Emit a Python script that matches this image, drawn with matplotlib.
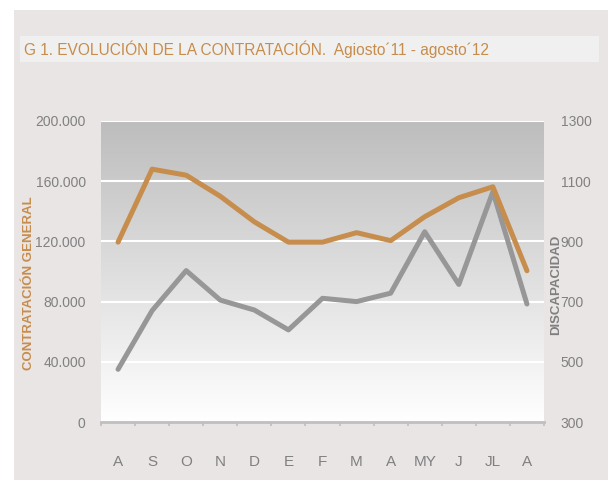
import numpy as np
import matplotlib
matplotlib.use("Agg")
import matplotlib.pyplot as plt
from matplotlib.patches import Rectangle

# ------- data -------
meses = ["A", "S", "O", "N", "D", "E", "F", "M", "A", "MY", "J", "JL", "A"]
contratacion_general = [119500, 168000, 164000, 150000, 133000, 119500, 119500,
                        125800, 120500, 136400, 149000, 156300, 100500]
discapacidad = [475, 670, 803, 705, 672, 606, 711, 700, 728, 932, 757, 1065, 692]
ticks_izq = [0, 40000, 80000, 120000, 160000, 200000]
ticks_der = [300, 500, 700, 900, 1100, 1300]

ORANGE = "#C68D4D"
GREY_LINE = "#979797"
TXT = "#808080"
BG = "#EAE5E5"
FONT = "Liberation Sans"

W, H = 608, 482
fig = plt.figure(figsize=(W / 100, H / 100), dpi=100)
fig.patch.set_facecolor("white")

# background panel + title band (behind the axes)
fig.patches.append(Rectangle((14 / W, 2 / H), 1, (H - 12) / H, transform=fig.transFigure,
                             facecolor=BG, edgecolor="none", zorder=-2))
fig.patches.append(Rectangle((20 / W, 1 - 62 / H), 579 / W, 26 / H, transform=fig.transFigure,
                             facecolor="#F1F0F0", edgecolor="none", zorder=-1))
fig.text(24 / W, 1 - 49 / H, "G 1. EVOLUCIÓN DE LA CONTRATACIÓN.  Agiosto´11 - agosto´12",
         fontsize=11.2, color=ORANGE, family=FONT, va="center", ha="left")

x0, x1, y0, y1 = 101, 544, 121, 422
ax = fig.add_axes([x0 / W, 1 - y1 / H, (x1 - x0) / W, (y1 - y0) / H])
ax2 = ax.twinx()
ax.set_zorder(ax2.get_zorder() + 1)
ax.patch.set_visible(False)

# gradient fill (grey on top -> white at bottom)
grad = np.linspace(0, 1, 256).reshape(-1, 1)
cmap = matplotlib.colors.LinearSegmentedColormap.from_list("g", ["#FFFFFF", "#BDBDBD"])
ax2.imshow(grad, extent=[-0.5, len(meses) - 0.5, 300, 1300], origin="lower",
           aspect="auto", cmap=cmap, zorder=0)

x = np.arange(len(meses))
ax.set_xlim(-0.5, len(meses) - 0.5)
ax.set_ylim(0, 200000)
ax2.set_ylim(300, 1300)
for t in ticks_izq[1:]:
    ax.axhline(t, color="white", lw=1.5, zorder=1)

# grey (right axis) drawn first, orange on top
ax.plot(x, discapacidad, color=GREY_LINE, lw=3.6, zorder=3, solid_capstyle="round",
        transform=ax2.transData)
ax.plot(x, contratacion_general, color=ORANGE, lw=3.6, zorder=4, solid_capstyle="round")

ax.set_yticks(ticks_izq)
ax.set_yticklabels([f"{v:,}".replace(",", ".") for v in ticks_izq])
ax.set_xticks(x)
ax.set_xticklabels(meses)
ax.set_xticks(np.arange(-0.5, len(meses)), minor=True)
ax.tick_params(axis="x", which="major", length=0, pad=24, labelsize=11, colors=TXT)
ax.tick_params(axis="x", which="minor", length=3, width=1.2, color="#BFBFBF", direction="out")
ax.tick_params(axis="y", length=0, pad=11, labelsize=10, colors=TXT)
for lab in ax.get_xticklabels() + ax.get_yticklabels():
    lab.set_family(FONT)
for s in ["top", "right", "left"]:
    ax.spines[s].set_visible(False)
ax.spines["bottom"].set_color("#BFBFBF")
ax.spines["bottom"].set_linewidth(2)

ax2.set_yticks(ticks_der)
ax2.tick_params(axis="y", length=0, pad=12, labelsize=10, colors=TXT)
for lab in ax2.get_yticklabels():
    lab.set_family(FONT)
for s in ax2.spines.values():
    s.set_visible(False)

fig.text(29 / W, 1 - 283 / H, "CONTRATACIÓN GENERAL", rotation=90, color=ORANGE,
         fontsize=9.5, fontweight="bold", family=FONT, ha="center", va="center")
fig.text(556 / W, 1 - 285 / H, "DISCAPACIDAD", rotation=90, color="#7F7F7F",
         fontsize=9.5, fontweight="bold", family=FONT, ha="center", va="center")

fig.savefig("out.png", dpi=100, facecolor=fig.get_facecolor())
